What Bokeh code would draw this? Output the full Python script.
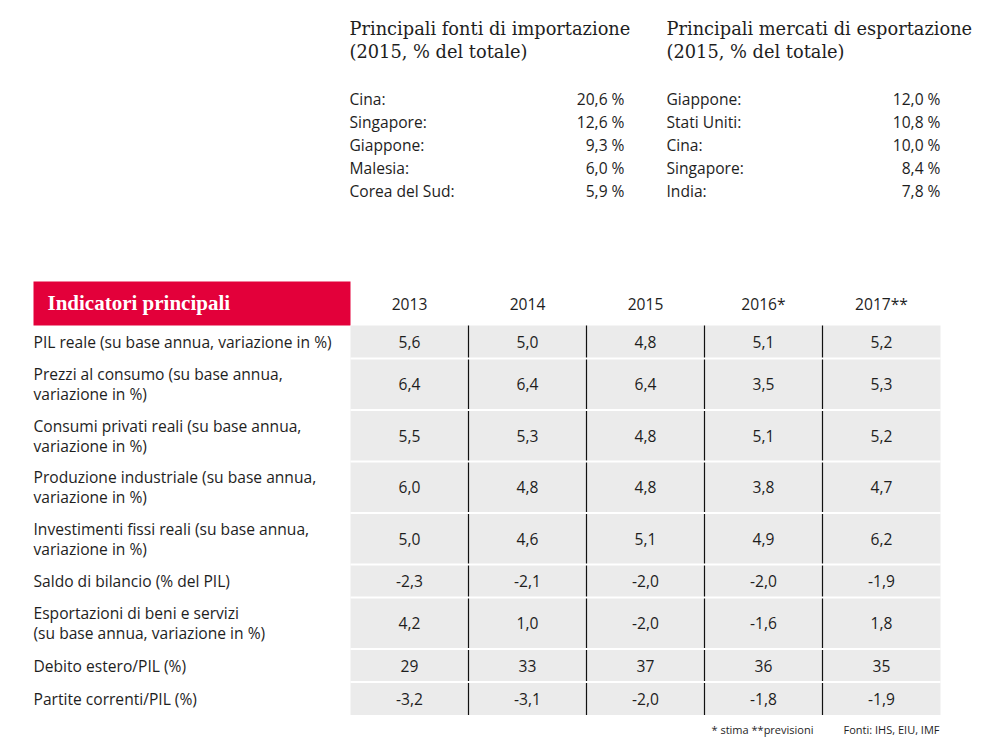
from bokeh.plotting import figure
from bokeh.models import Range1d
from bokeh.core.properties import value
from bokeh.embed import file_html
from bokeh.resources import INLINE

# ---------------- data ----------------
import_title = ["Principali fonti di importazione", "(2015, % del totale)"]
import_countries = ["Cina:", "Singapore:", "Giappone:", "Malesia:", "Corea del Sud:"]
import_shares = ["20,6 %", "12,6 %", "9,3 %", "6,0 %", "5,9 %"]

export_title = ["Principali mercati di esportazione", "(2015, % del totale)"]
export_countries = ["Giappone:", "Stati Uniti:", "Cina:", "Singapore:", "India:"]
export_shares = ["12,0 %", "10,8 %", "10,0 %", "8,4 %", "7,8 %"]

table_title = "Indicatori principali"
years = ["2013", "2014", "2015", "2016*", "2017**"]
indicators = [
    ["PIL reale (su base annua, variazione in %)"],
    ["Prezzi al consumo (su base annua,", "variazione in %)"],
    ["Consumi privati reali (su base annua,", "variazione in %)"],
    ["Produzione industriale (su base annua,", "variazione in %)"],
    ["Investimenti fissi reali (su base annua,", "variazione in %)"],
    ["Saldo di bilancio (% del PIL)"],
    ["Esportazioni di beni e servizi", "(su base annua, variazione in %)"],
    ["Debito estero/PIL (%)"],
    ["Partite correnti/PIL (%)"],
]
values_2013 = ["5,6", "6,4", "5,5", "6,0", "5,0", "-2,3", "4,2", "29", "-3,2"]
values_2014 = ["5,0", "6,4", "5,3", "4,8", "4,6", "-2,1", "1,0", "33", "-3,1"]
values_2015 = ["4,8", "6,4", "4,8", "4,8", "5,1", "-2,0", "-2,0", "37", "-2,0"]
values_2016 = ["5,1", "3,5", "5,1", "3,8", "4,9", "-2,0", "-1,6", "36", "-1,8"]
values_2017 = ["5,2", "5,3", "5,2", "4,7", "6,2", "-1,9", "1,8", "35", "-1,9"]
footnote = "* stima   **previsioni"
source = "Fonti: IHS, EIU, IMF"

# ---------------- layout ----------------
W, H = 977, 744
SANS = value("Open Sans")
SERIF = value("DejaVu Serif")
HEADSERIF = value("Liberation Serif")
FS = "15.6px"
TXT = "#1e1e1e"
GRAY = "#ebebeb"
RED = "#e3003a"

p = figure(width=W, height=H, output_backend="svg", toolbar_location=None,
           x_range=Range1d(0, W), y_range=Range1d(H, 0),
           min_border=0, outline_line_color=None)
p.axis.visible = False
p.grid.visible = False
p.background_fill_color = "white"
p.border_fill_color = "white"

# titles of the two lists
for x0, title in [(349, import_title), (666, export_title)]:
    p.text(x=[x0] * len(title), y=[28 + 23 * i for i in range(len(title))], text=title,
           text_font=SERIF, text_font_size="17.8px", text_color=TXT,
           text_baseline="middle", text_align="left")

# lists
list_y = [98 + 23 * i for i in range(5)]
for x0, x1, names, vals in [(349, 624, import_countries, import_shares),
                            (666, 940, export_countries, export_shares)]:
    p.text(x=[x0] * len(names), y=list_y, text=names, text_font=SANS,
           text_font_size=FS, text_color=TXT, text_baseline="middle", text_align="left")
    p.text(x=[x1] * len(vals), y=list_y, text=vals, text_font=SANS,
           text_font_size=FS, text_color=TXT, text_baseline="middle", text_align="right")

# table header
top = 325
p.quad(left=[33], right=[350], top=[281], bottom=[top], fill_color=RED, line_color=None)
p.text(x=[47], y=[302], text=[table_title], text_font=HEADSERIF, text_font_size="21px",
       text_font_style="bold", text_color="white", text_baseline="middle", text_align="left")

col_left = 350
col_w = 118
col_centers = [col_left + col_w * (i + 0.5) for i in range(len(years))]
p.text(x=col_centers, y=[303] * len(years), text=years, text_font=SANS,
       text_font_size=FS, text_color=TXT, text_baseline="middle", text_align="center")

# rows
row_h = [33 if len(lbl) == 1 else 51.5 for lbl in indicators]
row_top = [top]
for h in row_h[:-1]:
    row_top.append(row_top[-1] + h)
bottom = row_top[-1] + row_h[-1]
row_mid = [t + h / 2 for t, h in zip(row_top, row_h)]
right = col_left + col_w * len(years)

p.quad(left=[col_left], right=[right], top=[top], bottom=[bottom], fill_color=GRAY, line_color=None)

# vertical separators
xs = [col_left + col_w * i for i in range(1, len(years))]
p.segment(x0=xs, x1=xs, y0=[top] * len(xs), y1=[bottom] * len(xs), line_color="#111111", line_width=1.2)
# white horizontal separators
hs = row_top[1:]
p.segment(x0=[col_left] * len(hs), x1=[right] * len(hs), y0=hs, y1=hs, line_color="white", line_width=2)

# labels
lx, ly, lt = [], [], []
for lines, mid in zip(indicators, row_mid):
    n = len(lines)
    for k, s in enumerate(lines):
        lx.append(33)
        ly.append(mid + (k - (n - 1) / 2) * 20)
        lt.append(s)
p.text(x=lx, y=ly, text=lt, text_font=SANS, text_font_size=FS, text_color=TXT,
       text_baseline="middle", text_align="left")

# values
all_vals = [values_2013, values_2014, values_2015, values_2016, values_2017]
vx, vy, vt = [], [], []
for cx, col in zip(col_centers, all_vals):
    for v, mid in zip(col, row_mid):
        vx.append(cx)
        vy.append(mid)
        vt.append(v)
p.text(x=vx, y=vy, text=vt, text_font=SANS, text_font_size=FS, text_color=TXT,
       text_baseline="middle", text_align="center")

# footnotes
p.text(x=[711], y=[729], text=[footnote], text_font=SANS, text_font_size="11px",
       text_color=TXT, text_baseline="middle", text_align="left")
p.text(x=[939], y=[729], text=[source], text_font=SANS, text_font_size="11px",
       text_color=TXT, text_baseline="middle", text_align="right")

open("out.html", "w").write(file_html(p, INLINE))
